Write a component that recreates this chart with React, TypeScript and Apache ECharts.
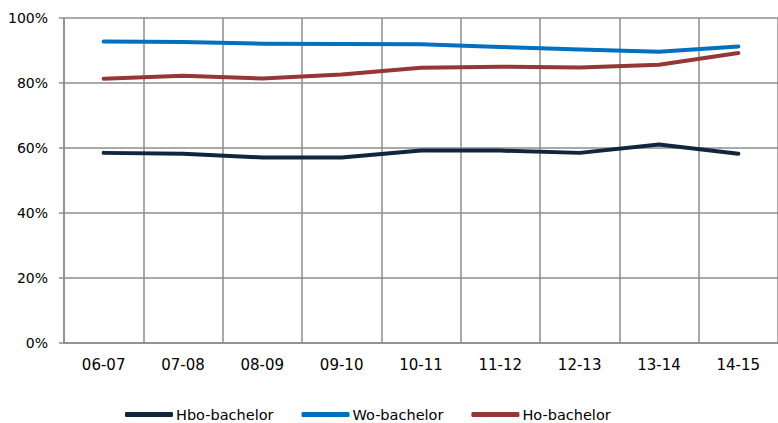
import React, { useEffect, useRef } from "react";
import * as echarts from "echarts";

const categories = ["06-07", "07-08", "08-09", "09-10", "10-11", "11-12", "12-13", "13-14", "14-15"];
const hboBachelor = [58.5, 58.2, 57.1, 57.1, 59.2, 59.2, 58.5, 61.1, 58.2];
const woBachelor = [92.8, 92.6, 92.1, 92.0, 91.9, 91.1, 90.3, 89.6, 91.2];
const hoBachelor = [81.3, 82.2, 81.4, 82.6, 84.7, 85.0, 84.8, 85.6, 89.2];
const yTicks = [0, 20, 40, 60, 80, 100];

const FONT = "DejaVu Sans";

export default function App() {
  const ref = useRef<HTMLDivElement>(null);
  useEffect(() => {
    if (!ref.current) return;
    const chart = echarts.init(ref.current, undefined, { renderer: "svg" });
    const mk = (name: string, data: number[], color: string) => ({
      name,
      type: "line",
      data,
      symbol: "none",
      smooth: false,
      lineStyle: { color, width: 4, cap: "round", join: "round" },
      itemStyle: { color },
    });
    chart.setOption({
      animation: false,
      backgroundColor: "#ffffff",
      grid: { left: 64, right: 0, top: 18, bottom: 80, containLabel: false },
      legend: {
        top: 407,
        left: 125,
        padding: 0,
        itemWidth: 48,
        itemHeight: 5,
        itemGap: 28,
        icon: "roundRect",
        textStyle: { fontFamily: FONT, fontSize: 14.5, color: "#000", padding: [0, 0, 0, -2] },
        data: ["Hbo-bachelor", "Wo-bachelor", "Ho-bachelor"],
      },
      xAxis: {
        type: "category",
        data: categories,
        boundaryGap: true,
        axisLine: { show: true, lineStyle: { color: "#8c8c8c", width: 1.5 } },
        axisTick: { show: false },
        splitLine: { show: true, lineStyle: { color: "#8c8c8c", width: 1.5 } },
        axisLabel: { fontFamily: FONT, fontSize: 15, color: "#000", margin: 14 },
      },
      yAxis: {
        type: "value",
        min: yTicks[0],
        max: yTicks[yTicks.length - 1],
        interval: 20,
        axisLine: { show: true, lineStyle: { color: "#8c8c8c", width: 1.5 } },
        axisTick: { show: true, length: 5, lineStyle: { color: "#8c8c8c", width: 1.5 } },
        splitLine: { show: true, lineStyle: { color: "#8c8c8c", width: 1.5 } },
        axisLabel: { fontFamily: FONT, fontSize: 14, color: "#000", margin: 16, formatter: "{value}%" },
      },
      series: [
        mk("Hbo-bachelor", hboBachelor, "#10253f"),
        mk("Wo-bachelor", woBachelor, "#0070c0"),
        mk("Ho-bachelor", hoBachelor, "#953735"),
      ],
    });
    return () => chart.dispose();
  }, []);
  return <div ref={ref} style={{ width: 778, height: 423, position: "absolute", left: 0, top: 0 }} />;
}
